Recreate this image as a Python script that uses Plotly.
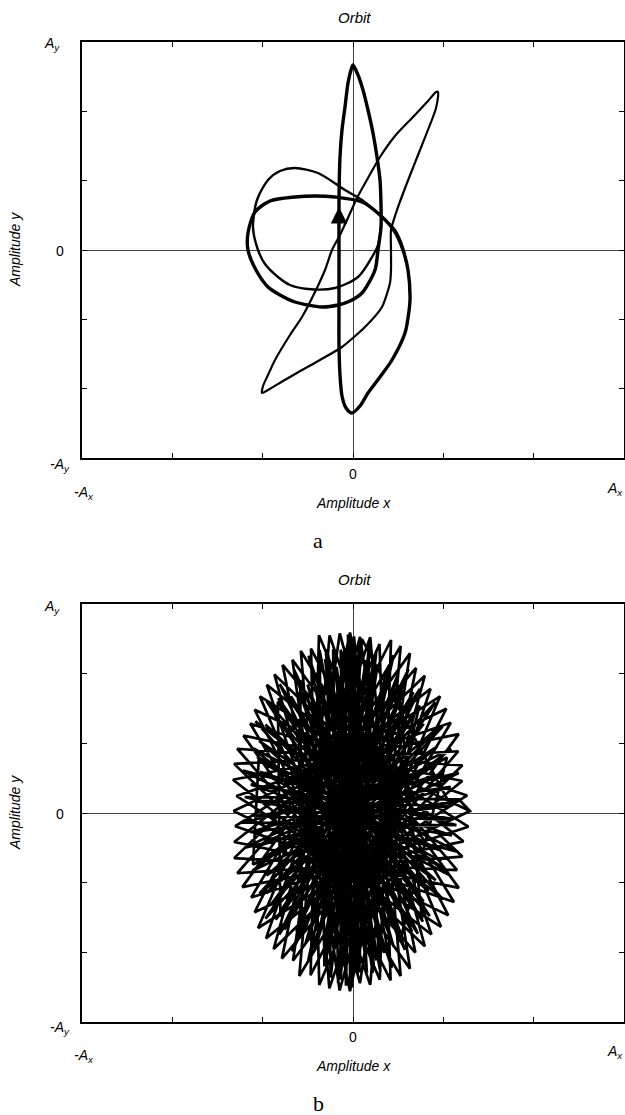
import math
import plotly.graph_objects as go

W, H = 625, 1115

# ---------------- Panel a : orbit (units: Ax = 271, Ay = 208) ----------------
A_AX, A_AY = 271, 208
# thick lap: top petal -> outer loop -> lower petal -> back up
lap1_x = [0, 5, 10, 15, 20, 24, 27, 28, 28, 25, 22, 9, -3, -15, -31, -58, -73, -85, -97, -105,
          -105, -98, -83, -58, -38, -18, 9, 27, 42, 50, 55, 57, 55, 52, 39, 27, 15, 7, -1, -7,
          -11, -13, -14, -14, -14, -14, -13, -11, -8, -5, -2, 0]
lap1_y = [185, 175, 160, 140, 117, 93, 70, 45, 23, 0, -20, -43, -51, -55, -57, -52, -45, -37, -20, 0,
          17, 38, 49, 53, 54, 53, 48, 35, 18, 0, -20, -50, -68, -83, -110, -127, -143, -156, -163, -158,
          -146, -125, -95, -50, 0, 50, 93, 120, 143, 167, 180, 185]
# thin lap: inner loop
lap2_x = [28, 25, 19, 5, -18, -45, -63, -75, -88, -95, -100, -96, -85, -73, -58, -35, -8, 9, 29, 42, 50, 53]
lap2_y = [23, 5, -7, -27, -38, -39, -35, -27, -14, 0, 23, 50, 70, 79, 82, 77, 60, 50, 33, 20, 2, -12]
# thin lap: diagonal loop
lap3_x = [85, 85, 83, 80, 67, 54, 44, 38, 38, 38, 37, 29, 12, -11, -33, -51, -70, -85, -91, -90,
          -85, -78, -63, -51, -38, -28, -21, -13, -6, 4, 15, 27, 42, 60, 75, 83, 85]
lap3_y = [158, 153, 142, 133, 100, 67, 40, 20, 0, -20, -33, -57, -77, -97, -110, -120, -131, -140, -143, -136,
          -125, -110, -85, -67, -42, -20, 0, 15, 30, 52, 72, 93, 114, 133, 149, 158, 158]
arrow_tip = (-14, 43)
arrow_tail = (-14, 22)

# ---------------- Panel b : orbit (units: Ax = 271, Ay = 209) ----------------
B_AX, B_AY = 271, 209
orbit_cx, orbit_cy = -3, 2
orbit_rx, orbit_ry = 120, 182
# turning points of the orbit (angle in degrees, radius as fraction of envelope)
star1_ang = [0, 145, 290, 75, 220, 5, 150, 295, 80, 225,
             10, 155, 300, 85, 230, 15, 160, 305, 90, 235,
             20, 165, 310, 95, 240, 25, 170, 315, 100, 245,
             30, 175, 320, 105, 250, 35, 180, 325, 110, 255,
             40, 185, 330, 115, 260, 45, 190, 335, 120, 265,
             50, 195, 340, 125, 270, 55, 200, 345, 130, 275,
             60, 205, 350, 135, 280, 65, 210, 355, 140, 285,
             70, 215, 0]
star1_rad = [1.00, 0.97, 0.99, 0.95, 1.00, 0.98, 0.96, 1.00, 0.97, 0.99,
             0.95, 0.98, 1.00, 0.96, 0.99, 0.97, 1.00, 0.95, 0.98, 0.99,
             0.96, 1.00, 0.97, 0.98, 0.95, 1.00, 0.99, 0.96, 0.98, 1.00,
             0.97, 0.95, 0.99, 1.00, 0.96, 0.98, 0.97, 1.00, 0.95, 0.99,
             0.98, 0.96, 1.00, 0.97, 0.99, 0.95, 0.98, 1.00, 0.96, 0.99,
             0.97, 1.00, 0.95, 0.98, 0.99, 0.96, 1.00, 0.97, 0.98, 0.95,
             1.00, 0.99, 0.96, 0.98, 0.97, 1.00, 0.95, 0.99, 0.98, 0.96,
             1.00, 0.97, 1.00]
star2_ang = [4, 175, 346, 157, 328, 139, 310, 121, 292, 103,
             274, 85, 256, 67, 238, 49, 220, 31, 202, 13,
             184, 355, 166, 337, 148, 319, 130, 301, 112, 283,
             94, 265, 76, 247, 58, 229, 40, 211, 22, 193, 4]
star2_rad = [0.91, 0.88, 0.93, 0.89, 0.90, 0.92, 0.88, 0.91, 0.93, 0.89,
             0.90, 0.92, 0.88, 0.93, 0.91, 0.89, 0.92, 0.90, 0.88, 0.93,
             0.91, 0.89, 0.92, 0.90, 0.93, 0.88, 0.91, 0.89, 0.92, 0.90,
             0.88, 0.93, 0.91, 0.89, 0.92, 0.90, 0.93, 0.88, 0.91, 0.89, 0.91]
star3_ang = [2, 176, 351, 164, 338, 153, 326, 140, 315, 128,
             302, 117, 290, 104, 279, 92, 266, 81, 254, 68,
             243, 56, 230, 45, 218, 32, 207, 20, 194, 9,
             182, 357, 170, 344, 159, 332, 146, 321, 134, 308,
             123, 296, 110, 285, 98, 272, 87, 260, 74, 249,
             62, 236, 51, 224, 38, 213, 26, 200, 15, 188, 2]
star3_rad = [0.84, 0.80, 0.86, 0.78, 0.83, 0.85, 0.79, 0.82, 0.86, 0.80,
             0.84, 0.78, 0.83, 0.86, 0.81, 0.85, 0.79, 0.84, 0.78, 0.86,
             0.82, 0.80, 0.85, 0.79, 0.84, 0.86, 0.78, 0.83, 0.81, 0.85,
             0.80, 0.86, 0.84, 0.78, 0.83, 0.81, 0.85, 0.79, 0.86, 0.84,
             0.78, 0.83, 0.81, 0.85, 0.80, 0.84, 0.86, 0.78, 0.83, 0.81,
             0.85, 0.80, 0.84, 0.86, 0.78, 0.83, 0.81, 0.85, 0.80, 0.84, 0.84]
star4_ang = [84, 264, 99, 279, 91, 271, 76, 256, 106, 286,
             88, 268, 95, 275, 80, 260, 102, 282, 90, 270,
             45, 225, 135, 315, 60, 240, 120, 300, 20, 200, 160, 340]
star4_rad = [0.95, 0.95, 0.90, 0.90, 0.97, 0.97, 0.88, 0.88, 0.92, 0.92,
             0.96, 0.96, 0.89, 0.89, 0.93, 0.93, 0.91, 0.91, 0.98, 0.98,
             0.82, 0.82, 0.85, 0.85, 0.80, 0.80, 0.83, 0.83, 0.86, 0.86, 0.81, 0.81]

orb_ang = star1_ang + star2_ang + star3_ang + star4_ang
orb_rad = star1_rad + star2_rad + star3_rad + star4_rad
orb_x = [orbit_cx + orbit_rx * r * math.cos(math.radians(a)) for a, r in zip(orb_ang, orb_rad)]
orb_y = [orbit_cy + orbit_ry * r * math.sin(math.radians(a)) for a, r in zip(orb_ang, orb_rad)]

# ---------------- figure ----------------
fig = go.Figure()
fig.add_trace(go.Scatter(x=lap1_x, y=lap1_y, mode="lines", xaxis="x", yaxis="y",
                         line=dict(color="black", width=3.4, shape="spline", smoothing=0.8)))
fig.add_trace(go.Scatter(x=lap2_x, y=lap2_y, mode="lines", xaxis="x", yaxis="y",
                         line=dict(color="black", width=2.4, shape="spline", smoothing=0.8)))
fig.add_trace(go.Scatter(x=lap3_x, y=lap3_y, mode="lines", xaxis="x", yaxis="y",
                         line=dict(color="black", width=2.2, shape="spline", smoothing=0.6)))
fig.add_trace(go.Scatter(x=orb_x, y=orb_y, mode="lines", xaxis="x2", yaxis="y2",
                         line=dict(color="black", width=2.7)))


def px(x):
    return x / W


def py(y):
    return 1 - y / H


xdom = [px(82), px(624)]
ydom_a = [py(458), py(42)]
ydom_b = [py(1022), py(604)]


def axis_cfg(amp, dom, anchor):
    return dict(domain=dom, range=[-amp, amp], anchor=anchor,
                tickvals=[-amp * 2 / 3, -amp / 3, 0, amp / 3, amp * 2 / 3],
                ticks="inside", ticklen=5, tickwidth=1, tickcolor="black",
                showticklabels=False, showgrid=False,
                showline=True, linecolor="black", linewidth=2, mirror="ticks",
                zeroline=True, zerolinecolor="#444", zerolinewidth=1, fixedrange=True)


SANS = "Liberation Sans, Arial, sans-serif"
SERIF = "Liberation Serif, Times New Roman, serif"
ann = []


def label(text, x, y, size=14, family=SANS, angle=0, xanchor="center"):
    ann.append(dict(text=text, x=px(x), y=py(y), xref="paper", yref="paper",
                    showarrow=False, xanchor=xanchor, yanchor="middle", textangle=angle,
                    font=dict(family=family, size=size, color="black")))


for dy, letter in ((0, "a"), (563, "b")):
    label("<i>Orbit</i>", 354, 17 + dy, size=15)
    label("<i>A<sub>y</sub></i>", 52, 44 + dy)
    label("0", 60, 251 + dy)
    label("<i>-A<sub>y</sub></i>", 60, 465 + dy)
    label("0", 353, 474 + dy)
    label("<i>-A<sub>x</sub></i>", 84, 493 + dy)
    label("<i>A<sub>x</sub></i>", 615, 489 + dy)
    label("<i>Amplitude x</i>", 353, 503 + dy)
    label("<i>Amplitude y</i>", 15, 250 + dy, angle=-90)
    label(letter, 318, 540 + dy, size=22, family=SERIF)

ann.append(dict(x=arrow_tip[0], y=arrow_tip[1], ax=arrow_tail[0], ay=arrow_tail[1],
                xref="x", yref="y", axref="x", ayref="y", showarrow=True,
                arrowhead=2, arrowsize=1.5, arrowwidth=2.2, arrowcolor="black", text=""))

fig.update_layout(
    width=W, height=H, autosize=False,
    margin=dict(l=0, r=0, t=0, b=0),
    paper_bgcolor="white", plot_bgcolor="white",
    showlegend=False,
    xaxis=axis_cfg(A_AX, xdom, "y"),
    yaxis=axis_cfg(A_AY, ydom_a, "x"),
    xaxis2=axis_cfg(B_AX, xdom, "y2"),
    yaxis2=axis_cfg(B_AY, ydom_b, "x2"),
    annotations=ann,
)

# remove the page's default 8px body margin so the figure fills the window exactly
fig.write_html("out.html",
               config={"displayModeBar": False, "staticPlot": True},
               post_script="document.body.style.margin='0';"
                           "document.documentElement.style.overflow='hidden';")
